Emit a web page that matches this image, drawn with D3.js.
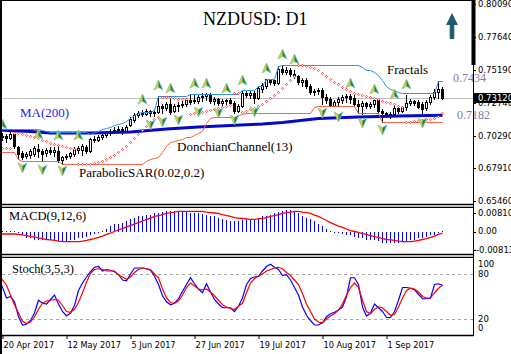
<!DOCTYPE html>
<html lang="en">
<head>
  <meta charset="UTF-8">
  <title>NZDUSD: D1</title>
  <script src="https://d3js.org/d3.v7.min.js"></script>
  <style>
    body { margin: 0; background: #fff; }
    svg { display: block; }
  </style>
</head>
<body>
  <svg id="chart"></svg>
  <script>
    // x axis labels and the bar each one sits on
    const dateLabels = ["20 Apr 2017", "12 May 2017", "5 Jun 2017", "27 Jun 2017", "19 Jul 2017", "10 Aug 2017", "1 Sep 2017"];
    const dateIndex = [1, 17, 33, 49, 65, 81, 97];

    // daily candles
    const open = [
      .7007,.7021,.7029,.7014,.7044,.6947,.6903,.6880,.6888,.6895,
      .6932,.6917,.6903,.6925,.6910,.6917,.6851,.6873,.6880,.6895,
      .6925,.6925,.6947,.6917,.7007,.6999,.7021,.7036,.7051,.7066,
      .7073,.7081,.7066,.7111,.7148,.7185,.7200,.7192,.7215,.7200,
      .7207,.7252,.7237,.7266,.7215,.7252,.7259,.7266,.7296,.7296,
      .7289,.7318,.7326,.7341,.7289,.7304,.7274,.7289,.7296,.7274,
      .7215,.7252,.7348,.7333,.7348,.7311,.7378,.7400,.7445,.7445,
      .7422,.7526,.7504,.7519,.7489,.7474,.7430,.7445,.7400,.7356,
      .7363,.7370,.7318,.7304,.7252,.7281,.7296,.7318,.7326,.7311,
      .7266,.7252,.7274,.7252,.7266,.7296,.7215,.7200,.7185,.7192,
      .7237,.7215,.7244,.7274,.7289,.7281,.7266,.7237,.7281,.7318,
      .7356,.7378];
    const close = [
      .7021,.7029,.7014,.7044,.6955,.6895,.6873,.6895,.6917,.6940,
      .6917,.6895,.6925,.6910,.6925,.6851,.6873,.6880,.6903,.6932,
      .6940,.6955,.6917,.7007,.6999,.7021,.7036,.7051,.7066,.7073,
      .7081,.7066,.7096,.7155,.7185,.7200,.7192,.7215,.7200,.7207,
      .7252,.7237,.7266,.7207,.7252,.7259,.7266,.7296,.7281,.7289,
      .7318,.7326,.7341,.7289,.7304,.7274,.7289,.7296,.7274,.7215,
      .7252,.7348,.7333,.7348,.7311,.7385,.7408,.7452,.7430,.7422,
      .7526,.7504,.7519,.7489,.7474,.7430,.7445,.7400,.7356,.7363,
      .7370,.7318,.7296,.7252,.7281,.7304,.7318,.7326,.7304,.7266,
      .7252,.7274,.7252,.7266,.7296,.7215,.7200,.7185,.7192,.7237,
      .7215,.7244,.7274,.7289,.7274,.7244,.7229,.7281,.7318,.7356,
      .7378,.7312];
    const high = [
      .7036,.7051,.7044,.7059,.7051,.6955,.6917,.6910,.6932,.6955,
      .6969,.6932,.6940,.6947,.6947,.6955,.6880,.6895,.6910,.6947,
      .6955,.6969,.6962,.7014,.7029,.7036,.7059,.7066,.7081,.7096,
      .7103,.7096,.7111,.7170,.7200,.7215,.7222,.7229,.7222,.7222,
      .7326,.7266,.7281,.7304,.7266,.7281,.7289,.7311,.7341,.7341,
      .7333,.7348,.7348,.7348,.7318,.7311,.7304,.7304,.7311,.7289,
      .7266,.7363,.7363,.7363,.7363,.7400,.7422,.7452,.7445,.7445,
      .7549,.7556,.7541,.7534,.7519,.7482,.7460,.7460,.7415,.7378,
      .7385,.7385,.7341,.7318,.7296,.7318,.7333,.7341,.7341,.7333,
      .7296,.7289,.7281,.7281,.7296,.7304,.7229,.7207,.7207,.7259,
      .7244,.7252,.7333,.7304,.7296,.7296,.7281,.7296,.7333,.7378,
      .7434,.7393];
    const low = [
      .6992,.6999,.6984,.7007,.6940,.6858,.6858,.6865,.6865,.6880,
      .6873,.6843,.6880,.6895,.6880,.6836,.6821,.6858,.6865,.6880,
      .6903,.6888,.6903,.6910,.6984,.6992,.7007,.7021,.7036,.7051,
      .7059,.7044,.7059,.7103,.7133,.7170,.7177,.7185,.7177,.7177,
      .7200,.7200,.7222,.7192,.7207,.7215,.7244,.7252,.7266,.7274,
      .7274,.7289,.7296,.7274,.7266,.7259,.7252,.7266,.7259,.7200,
      .7207,.7244,.7318,.7311,.7274,.7304,.7356,.7385,.7415,.7408,
      .7415,.7489,.7489,.7474,.7460,.7415,.7400,.7385,.7341,.7333,
      .7341,.7266,.7274,.7252,.7252,.7252,.7274,.7281,.7274,.7252,
      .7200,.7192,.7237,.7237,.7244,.7200,.7133,.7170,.7163,.7185,
      .7200,.7207,.7222,.7259,.7259,.7237,.7192,.7222,.7266,.7304,
      .7311,.7304];
    const lastPrice = 0.7312;

    // MA(200), read at a few bars
    const maIndex = [0, 8, 13, 23, 33, 42, 50, 58, 66, 71, 80, 90, 100, 111];
    const maValue = [.7073, .7062, .7051, .7051, .7059, .7081, .7096, .7107, .7118, .7129, .7159, .7170, .7177, .7182];

    // DonchianChannel(13)
    const dcUpper = [
      .7081,.7081,.7081,.7081,.7081,.7081,.7081,.7081,.7081,.7081,
      .7081,.7073,.7066,.7059,.7059,.7059,.7059,.7059,.7059,.7059,
      .7059,.7059,.7059,.7044,.7059,.7066,.7081,.7088,.7096,.7111,
      .7118,.7125,.7140,.7163,.7185,.7200,.7207,.7207,.7207,.7222,
      .7326,.7326,.7326,.7326,.7326,.7326,.7326,.7326,.7341,.7341,
      .7341,.7341,.7341,.7341,.7341,.7341,.7341,.7341,.7341,.7341,
      .7341,.7370,.7370,.7370,.7370,.7400,.7400,.7452,.7452,.7452,
      .7549,.7556,.7556,.7556,.7556,.7556,.7556,.7556,.7556,.7556,
      .7556,.7556,.7556,.7556,.7556,.7556,.7556,.7556,.7556,.7556,
      .7556,.7541,.7519,.7519,.7504,.7482,.7445,.7400,.7378,.7370,
      .7356,.7348,.7348,.7348,.7348,.7348,.7348,.7348,.7348,.7348,
      .7434,.7434];
    const dcLower = [
      .6910,.6910,.6910,.6910,.6910,.6858,.6843,.6843,.6843,.6843,
      .6843,.6843,.6843,.6843,.6843,.6843,.6821,.6821,.6821,.6821,
      .6821,.6821,.6821,.6821,.6821,.6821,.6821,.6821,.6821,.6821,
      .6821,.6821,.6821,.6821,.6821,.6821,.6821,.6843,.6858,.6865,
      .6873,.6910,.6955,.6984,.6992,.6999,.7007,.7021,.7021,.7036,
      .7051,.7066,.7125,.7163,.7170,.7170,.7170,.7170,.7170,.7170,
      .7185,.7192,.7200,.7200,.7200,.7200,.7200,.7200,.7200,.7200,
      .7200,.7200,.7200,.7200,.7200,.7200,.7200,.7200,.7200,.7244,
      .7252,.7252,.7252,.7252,.7252,.7252,.7252,.7252,.7252,.7252,
      .7200,.7200,.7200,.7200,.7200,.7200,.7133,.7133,.7133,.7133,
      .7133,.7133,.7133,.7133,.7133,.7133,.7133,.7133,.7133,.7133,
      .7133,.7133];

    // ParabolicSAR(0.02,0.2)
    const sar = [
      .6932,.6936,.6940,.6943,.7051,.7051,.7044,.7036,.7029,.7021,
      .7014,.6999,.6992,.6977,.6969,.6962,.6955,.6947,.6940,.6932,
      .6821,.6821,.6821,.6821,.6828,.6836,.6843,.6858,.6873,.6888,
      .6910,.6932,.6955,.6984,.7014,.7044,.7073,.7103,.7133,.7155,
      .7170,.7318,.7318,.7315,.7311,.7307,.7304,.7300,.7192,.7196,
      .7200,.7207,.7215,.7222,.7229,.7237,.7244,.7252,.7259,.7348,
      .7348,.7207,.7215,.7226,.7237,.7252,.7266,.7289,.7311,.7333,
      .7356,.7385,.7415,.7445,.7474,.7556,.7553,.7549,.7541,.7534,
      .7519,.7497,.7474,.7452,.7430,.7415,.7393,.7378,.7363,.7348,
      .7341,.7333,.7326,.7318,.7311,.7304,.7292,.7281,.7274,.7263,
      .7252,.7244,.7133,.7133,.7137,.7140,.7148,.7152,.7155,.7163,
      .7177,.7196];

    // Fractals
    const fracUpIndex = [1, 10, 15, 20, 36, 40, 43, 49, 52, 57, 61, 67, 71, 74, 88, 94, 99, 102];
    const fracUpValue = [.7036, .6962, .6955, .6955, .7222, .7326, .7304, .7341, .7341, .7304, .7363, .7452, .7556, .7519, .7341, .7296, .7259, .7333];
    const fracDnIndex = [6, 11, 16, 38, 41, 45, 50, 55, 59, 64, 81, 85, 91, 96, 106];
    const fracDnValue = [.6858, .6843, .6836, .7177, .7200, .7215, .7274, .7266, .7215, .7274, .7266, .7237, .7192, .7140, .7192];

    // MACD(9,12,6)
    const macdHist = [
      .0002,.0004,.0004,.0004,.0002,-.0004,-.0013,-.0022,-.0026,-.0031,
      -.0031,-.0033,-.0035,-.0035,-.0037,-.0039,-.0042,-.0039,-.0035,-.0031,
      -.0026,-.0022,-.0018,-.0011,-.0007,-.0002,.0004,.0013,.0022,.0031,
      .0035,.0039,.0044,.0053,.0061,.0066,.0070,.0074,.0074,.0079,
      .0083,.0085,.0088,.0088,.0088,.0088,.0088,.0085,.0083,.0081,
      .0079,.0077,.0074,.0070,.0066,.0057,.0053,.0050,.0048,.0048,
      .0048,.0050,.0053,.0053,.0055,.0059,.0066,.0070,.0074,.0079,
      .0085,.0090,.0092,.0092,.0088,.0079,.0070,.0061,.0053,.0044,
      .0031,.0022,.0013,.0004,-.0002,-.0004,-.0007,-.0009,-.0013,-.0018,
      -.0022,-.0026,-.0031,-.0033,-.0035,-.0039,-.0044,-.0046,-.0048,-.0046,
      -.0044,-.0042,-.0039,-.0035,-.0031,-.0026,-.0022,-.0018,-.0013,-.0009,
      -.0004,.0004];
    const macdSignal = [
      -.0011,-.0011,-.0011,-.0011,-.0011,-.0013,-.0015,-.0018,-.0022,-.0024,
      -.0028,-.0031,-.0035,-.0037,-.0039,-.0042,-.0044,-.0044,-.0044,-.0044,
      -.0044,-.0042,-.0039,-.0035,-.0031,-.0026,-.0020,-.0013,-.0007,.0000,
      .0007,.0013,.0020,.0026,.0033,.0039,.0046,.0053,.0059,.0066,
      .0070,.0074,.0079,.0083,.0085,.0088,.0088,.0088,.0088,.0088,
      .0088,.0088,.0085,.0083,.0081,.0079,.0074,.0070,.0066,.0061,
      .0059,.0057,.0055,.0053,.0053,.0055,.0057,.0061,.0066,.0070,
      .0074,.0079,.0083,.0085,.0088,.0088,.0085,.0083,.0079,.0072,
      .0066,.0057,.0048,.0039,.0031,.0024,.0018,.0011,.0004,.0000,
      -.0004,-.0009,-.0013,-.0018,-.0022,-.0026,-.0031,-.0035,-.0037,-.0039,
      -.0042,-.0044,-.0044,-.0044,-.0042,-.0039,-.0035,-.0031,-.0026,-.0020,
      -.0013,-.0007];

    // Stoch(3,5,3)
    const stochK = [
      75,62,48,50,43,23,12,13,18,28,
      45,41,40,46,52,40,30,24,28,38,
      58,68,76,83,89,90,84,86,85,83,
      79,72,71,80,88,88,88,87,85,77,
      66,51,43,39,41,47,57,66,75,67,
      60,55,67,56,46,40,35,35,35,30,
      37,48,66,74,76,77,84,90,93,89,
      86,78,79,72,62,52,36,25,18,12,
      12,15,23,27,29,32,36,50,75,75,
      66,36,24,28,40,35,30,22,22,30,
      45,62,62,61,59,53,47,47,48,66,
      67,65];
    const stochD = [
      78,72,65,52,39,28,17,14,16,23,
      33,41,44,45,46,45,38,30,29,33,
      42,55,69,81,86,87,86,84,84,84,
      79,76,73,76,82,86,88,87,86,80,
      75,60,48,42,41,44,52,62,68,64,
      60,59,60,56,51,45,39,36,34,33,
      37,41,55,68,74,77,80,84,86,88,
      89,87,82,78,72,66,54,40,30,20,
      16,15,20,24,27,32,40,52,62,68,
      62,45,30,27,33,36,35,30,25,26,
      36,48,58,61,60,56,50,48,48,55,
      61,65];

    // axis ticks
    const priceTicks = [0.8009, 0.7764, 0.7519, 0.7274, 0.7029, 0.6791, 0.6546];
    const macdTicks = [0.0081, 0, -0.00813];
    const macdTickLabels = ["0.00810", "0.00", "-0.00813"];
    const stochTicks = [100, 80, 20, 0];
    const stochLevels = [80, 20];

    const width = 511, height = 354;
    const axisX = 473;
    const serif = "'Liberation Serif', 'Times New Roman', serif";
    const sans = "'DejaVu Sans', Tahoma, sans-serif";

    const svg = d3.select("#chart").attr("width", width).attr("height", height);
    const n = close.length;
    const px = v => Math.round(v) + 0.5;

    const x = d3.scaleLinear().domain([0, n - 1]).range([-1.5, 442.5]);
    const y = d3.scaleLinear().domain([0.6546, 0.8009]).range([201, 4]);
    const yMacd = d3.scaleLinear().domain([-0.0081, 0.0081]).range([250, 213]);
    const yStoch = d3.scaleLinear().domain([0, 100]).range([334, 259]);

    const defs = svg.append("defs");
    defs.append("clipPath").attr("id", "clipMain").append("rect")
      .attr("x", 2).attr("y", 1).attr("width", axisX - 2).attr("height", 203);
    defs.append("clipPath").attr("id", "clipMacd").append("rect")
      .attr("x", 2).attr("y", 208).attr("width", axisX - 2).attr("height", 46);
    defs.append("clipPath").attr("id", "clipStoch").append("rect")
      .attr("x", 2).attr("y", 258).attr("width", axisX - 2).attr("height", 77);

    svg.append("rect").attr("width", width).attr("height", height).attr("fill", "#fff");

    // ---------- main panel ----------
    const gMain = svg.append("g").attr("clip-path", "url(#clipMain)");

    gMain.append("line")
      .attr("x1", 0).attr("x2", axisX)
      .attr("y1", px(y(lastPrice))).attr("y2", px(y(lastPrice)))
      .attr("stroke", "#c0c0c0");

    const bars = d3.range(n);
    gMain.selectAll(".wick").data(bars).enter().append("line")
      .attr("x1", i => x(i)).attr("x2", i => x(i))
      .attr("y1", i => Math.round(y(high[i]))).attr("y2", i => Math.round(y(low[i])) + 1)
      .attr("stroke", "#000");

    gMain.selectAll(".body").data(bars).enter().append("rect")
      .attr("x", i => x(i) - 1)
      .attr("width", 2)
      .attr("y", i => px(y(Math.max(open[i], close[i]))))
      .attr("height", i => Math.max(px(y(Math.min(open[i], close[i]))) - px(y(Math.max(open[i], close[i]))), 0.01))
      .attr("fill", i => close[i] >= open[i] ? "#fff" : "#000")
      .attr("stroke", "#000");

    gMain.append("path")
      .datum(maIndex)
      .attr("fill", "none").attr("stroke", "#0808c8").attr("stroke-width", 3)
      .attr("d", d3.line().x(i => x(i)).y((i, k) => y(maValue[k])));

    gMain.append("path")
      .datum(bars)
      .attr("fill", "none").attr("stroke", "#1e8fff").attr("stroke-width", 1)
      .attr("d", d3.line().x(i => x(i)).y(i => px(y(dcUpper[i]))));

    gMain.append("path")
      .datum(bars)
      .attr("fill", "none").attr("stroke", "#ff5a3c").attr("stroke-width", 1)
      .attr("d", d3.line().x(i => x(i)).y(i => px(y(dcLower[i]))));

    gMain.selectAll(".sar").data(bars).enter().append("path")
      .attr("d", i => {
        const cx = x(i), cy = Math.round(y(sar[i])) + 0.5;
        return `M${cx},${cy - 1.2}L${cx + 1.2},${cy}L${cx},${cy + 1.2}L${cx - 1.2},${cy}Z`;
      })
      .attr("fill", "#fff").attr("stroke", "#ff1010").attr("stroke-width", 0.8);

    // fractal arrows
    function fractalUp(cx, cy) {
      return { full: `M${cx},${cy - 5}L${cx + 4.5},${cy + 5}L${cx},${cy + 2.5}L${cx - 4.5},${cy + 5}Z`,
               half: `M${cx},${cy - 5}L${cx},${cy + 2.5}L${cx - 4.5},${cy + 5}Z` };
    }
    function fractalDown(cx, cy) {
      return { full: `M${cx},${cy + 5}L${cx + 4.5},${cy - 5}L${cx},${cy - 2.5}L${cx - 4.5},${cy - 5}Z`,
               half: `M${cx},${cy + 5}L${cx},${cy - 2.5}L${cx - 4.5},${cy - 5}Z` };
    }
    const fracUp = fracUpIndex.map((i, k) => fractalUp(x(i), y(fracUpValue[k]) - 11));
    const fracDn = fracDnIndex.map((i, k) => fractalDown(x(i), y(fracDnValue[k]) + 9));
    [fracUp, fracDn].forEach(list => {
      const g = gMain.append("g");
      g.selectAll(".f").data(list).enter().append("path")
        .attr("d", d => d.full).attr("fill", "#178a30").attr("stroke", "#7cc6d6").attr("stroke-width", 0.8);
      g.selectAll(".h").data(list).enter().append("path")
        .attr("d", d => d.half).attr("fill", "#d6c850");
    });

    // annotations
    svg.append("text").attr("x", 203).attr("y", 25)
      .attr("font-family", serif).attr("font-size", 18).text("NZDUSD: D1");
    svg.append("path")
      .attr("d", "M452,13L458,25L454.3,25L454.3,39L449.7,39L449.7,25L446,25Z")
      .attr("fill", "#1d5d6d");
    svg.append("text").attr("x", 387).attr("y", 74)
      .attr("font-family", serif).attr("font-size", 13).text("Fractals");
    svg.append("text").attr("x", 453).attr("y", 81.5)
      .attr("font-family", serif).attr("font-size", 12).attr("fill", "#857aa6").text("0.7434");
    svg.append("text").attr("x", 457).attr("y", 118.5)
      .attr("font-family", serif).attr("font-size", 12).attr("fill", "#857aa6").text("0.7182");
    svg.append("text").attr("x", 20).attr("y", 117)
      .attr("font-family", serif).attr("font-size", 13).attr("fill", "#2424e8").text("MA(200)");
    svg.append("text").attr("x", 177).attr("y", 150.5)
      .attr("font-family", serif).attr("font-size", 13).text("DonchianChannel(13)");
    svg.append("text").attr("x", 79).attr("y", 176.5)
      .attr("font-family", serif).attr("font-size", 13).text("ParabolicSAR(0.02,0.2)");

    // ---------- MACD panel ----------
    const gMacd = svg.append("g").attr("clip-path", "url(#clipMacd)");
    gMacd.selectAll(".hist").data(bars).enter().append("line")
      .attr("x1", i => x(i)).attr("x2", i => x(i))
      .attr("y1", Math.round(yMacd(0)))
      .attr("y2", i => Math.round(yMacd(macdHist[i])) + (macdHist[i] < 0 ? 1 : 0))
      .attr("stroke", "#0000ff");
    gMacd.append("path").datum(bars)
      .attr("fill", "none").attr("stroke", "#ff0000").attr("stroke-width", 1.3)
      .attr("d", d3.line().x(i => x(i)).y(i => yMacd(macdSignal[i])));
    svg.append("text").attr("x", 9).attr("y", 220)
      .attr("font-family", serif).attr("font-size", 12.5).text("MACD(9,12,6)");

    // ---------- Stoch panel ----------
    const gSto = svg.append("g").attr("clip-path", "url(#clipStoch)");
    gSto.selectAll(".lvl").data(stochLevels).enter().append("line")
      .attr("x1", 2).attr("x2", axisX)
      .attr("y1", d => px(yStoch(d))).attr("y2", d => px(yStoch(d)))
      .attr("stroke", "#a8a8a8").attr("stroke-dasharray", "3,3");
    gSto.append("path").datum(bars)
      .attr("fill", "none").attr("stroke", "#0000ff").attr("stroke-width", 1.2)
      .attr("d", d3.line().x(i => x(i)).y(i => yStoch(stochK[i])));
    gSto.append("path").datum(bars)
      .attr("fill", "none").attr("stroke", "#ff0000").attr("stroke-width", 1.2)
      .attr("d", d3.line().x(i => x(i)).y(i => yStoch(stochD[i])));
    svg.append("text").attr("x", 12).attr("y", 273)
      .attr("font-family", serif).attr("font-size", 12.5).text("Stoch(3,5,3)");

    // ---------- frames ----------
    const frame = svg.append("g").attr("stroke", "#000");
    [[204.5, 1.5], [207.3, 1.3], [254.5, 1.5], [257.3, 1.3], [335.5, 1.3]].forEach(([yy, w]) => {
      frame.append("line").attr("x1", 0).attr("x2", axisX + 0.5).attr("y1", yy).attr("y2", yy).attr("stroke-width", w);
    });
    frame.append("line").attr("x1", axisX + 0.5).attr("x2", axisX + 0.5).attr("y1", 0).attr("y2", 336);
    svg.append("rect").attr("x", 0).attr("y", 0).attr("width", 2).attr("height", height).attr("fill", "#000");
    svg.append("rect").attr("x", 0).attr("y", 0).attr("width", axisX + 1).attr("height", 1).attr("fill", "#000");
    svg.append("rect").attr("x", 471.5).attr("y", 0).attr("width", 4).attr("height", 65).attr("fill", "#000");

    // price axis
    const priceAxis = svg.append("g").attr("font-family", sans).attr("font-size", 8.5);
    priceTicks.forEach(v => {
      const yy = y(v);
      priceAxis.append("line").attr("x1", axisX).attr("x2", axisX + 3)
        .attr("y1", px(yy)).attr("y2", px(yy)).attr("stroke", "#000");
      priceAxis.append("text").attr("x", 478).attr("y", yy).attr("dy", "0.35em").text(d3.format(".5f")(v));
    });
    const yLast = y(lastPrice);
    priceAxis.append("rect").attr("x", axisX + 1).attr("y", Math.round(yLast) - 5)
      .attr("width", width - axisX).attr("height", 10).attr("fill", "#000");
    priceAxis.append("text").attr("x", 478).attr("y", yLast).attr("dy", "0.35em")
      .attr("fill", "#fff").text(d3.format(".5f")(lastPrice));

    // MACD axis
    const macdAxis = svg.append("g").attr("font-family", sans).attr("font-size", 8.5);
    macdTicks.forEach((v, k) => {
      const yy = yMacd(v);
      macdAxis.append("line").attr("x1", axisX).attr("x2", axisX + 3)
        .attr("y1", px(yy)).attr("y2", px(yy)).attr("stroke", "#000");
      macdAxis.append("text").attr("x", v < 0 ? 476 : 478).attr("y", yy).attr("dy", "0.35em").text(macdTickLabels[k]);
    });

    // Stoch axis
    const stochAxis = svg.append("g").attr("font-family", sans).attr("font-size", 8.5);
    stochTicks.forEach(v => {
      const yy = Math.min(Math.max(yStoch(v), 264), 328);
      stochAxis.append("text").attr("x", 478).attr("y", yy).attr("dy", "0.35em").text(v);
    });

    // date axis
    const dateAxis = svg.append("g").attr("font-family", sans).attr("font-size", 8.2);
    dateIndex.forEach((i, k) => {
      dateAxis.append("line").attr("x1", x(i) + 0.5).attr("x2", x(i) + 0.5)
        .attr("y1", 336).attr("y2", 339).attr("stroke", "#000");
      dateAxis.append("text").attr("x", x(i) + 1).attr("y", 348).text(dateLabels[k]);
    });
  </script>
</body>
</html>
